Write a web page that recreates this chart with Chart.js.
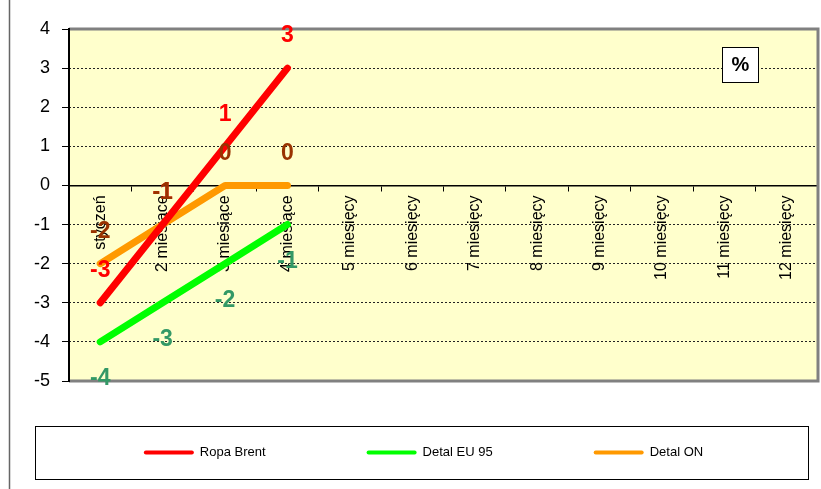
<!DOCTYPE html>
<html>
<head>
<meta charset="utf-8">
<script src="https://cdn.jsdelivr.net/npm/chart.js@4"></script>
<style>
  html, body { margin: 0; padding: 0; background: #fff; }
  #wrap { width: 821px; height: 489px; position: relative; }
</style>
</head>
<body>
<div id="wrap"><canvas id="chart" width="821" height="489"></canvas></div>
<script>
// chart data
const months = ["styczeń", "2 miesiące", "3 miesiące", "4 miesiące", "5 miesięcy", "6 miesięcy",
    "7 miesięcy", "8 miesięcy", "9 miesięcy", "10 miesięcy", "11 miesięcy", "12 miesięcy"];
const ropaBrent = [-3, -1, 1, 3];
const detalEU95 = [-4, -3, -2, -1];
const detalON = [-2, -1, 0, 0];
const yTicks = [4, 3, 2, 1, 0, -1, -2, -3, -4, -5];

const FONT = "'Liberation Sans', Arial, sans-serif";

// label colour + offset (px) for the value labels of each series
const labelStyle = [
    { color: "#FF0000", dy: -32 },
    { color: "#339966", dy: 37 },
    { color: "#993300", dy: -32 }
];

// plot background, frame and extras
const framePlugin = {
    id: "frame",
    beforeDraw(chart) {
        const { ctx, chartArea: a } = chart;
        ctx.save();
        ctx.fillStyle = "#fff";
        ctx.fillRect(0, 0, chart.width, chart.height);
        ctx.fillStyle = "#FFFFCC";
        ctx.fillRect(a.left, a.top, a.right - a.left, a.bottom - a.top);
        // outer chart frame (left edge only visible)
        ctx.strokeStyle = "#666";
        ctx.lineWidth = 1.5;
        ctx.beginPath();
        ctx.moveTo(9.5, 0);
        ctx.lineTo(9.5, chart.height);
        ctx.stroke();
        ctx.restore();
    },
    beforeDatasetsDraw(chart) {
        const { ctx, chartArea: a } = chart;
        ctx.save();
        ctx.strokeStyle = "#808080";
        ctx.lineWidth = 3;
        ctx.beginPath();
        ctx.moveTo(a.left, a.top);
        ctx.lineTo(a.right, a.top);
        ctx.lineTo(a.right, a.bottom);
        ctx.lineTo(a.left, a.bottom);
        ctx.stroke();
        ctx.strokeStyle = "#000";
        ctx.lineWidth = 2;
        ctx.beginPath();
        ctx.moveTo(a.left, a.top - 1);
        ctx.lineTo(a.left, a.bottom + 1);
        ctx.stroke();
        ctx.restore();
    },
    afterDatasetsDraw(chart) {
        const ctx = chart.ctx;
        ctx.save();
        ctx.font = "bold 23px " + FONT;
        ctx.textAlign = "center";
        ctx.textBaseline = "middle";
        chart.data.datasets.forEach((ds, i) => {
            const meta = chart.getDatasetMeta(i);
            ctx.fillStyle = labelStyle[i].color;
            meta.data.forEach((pt, j) => {
                if (ds.data[j] == null) return;
                ctx.fillText(String(ds.data[j]), pt.x, pt.y + labelStyle[i].dy);
            });
        });
        ctx.restore();
    },
    afterDraw(chart) {
        const ctx = chart.ctx;
        ctx.save();
        // "%" box
        ctx.fillStyle = "#fff";
        ctx.fillRect(722, 47, 37, 35);
        ctx.strokeStyle = "#000";
        ctx.lineWidth = 1;
        ctx.strokeRect(722.5, 47.5, 36, 35);
        ctx.fillStyle = "#000";
        ctx.font = "bold 20px " + FONT;
        ctx.textAlign = "center";
        ctx.textBaseline = "middle";
        ctx.fillText("%", 740.5, 65);

        // legend
        const box = { left: 35, top: 426, right: 808, bottom: 479 };
        ctx.fillStyle = "#fff";
        ctx.fillRect(box.left, box.top, box.right - box.left, box.bottom - box.top);
        ctx.strokeStyle = "#000";
        ctx.strokeRect(box.left + 0.5, box.top + 0.5, box.right - box.left, box.bottom - box.top);
        ctx.font = "13px " + FONT;
        ctx.textAlign = "left";
        const lineLen = 50, gapText = 6, gapItem = 101;
        const items = chart.data.datasets.map(ds => ({
            label: ds.label, color: ds.borderColor,
            w: lineLen + gapText + ctx.measureText(ds.label).width
        }));
        const total = items.reduce((s, it) => s + it.w, 0) + gapItem * (items.length - 1);
        let x = (box.left + box.right) / 2 - total / 2 + 2;
        const y = (box.top + box.bottom) / 2;
        items.forEach(it => {
            ctx.strokeStyle = it.color;
            ctx.lineWidth = 4;
            ctx.lineCap = "round";
            ctx.beginPath();
            ctx.moveTo(x + 2, y);
            ctx.lineTo(x + lineLen - 2, y);
            ctx.stroke();
            ctx.fillStyle = "#000";
            ctx.fillText(it.label, x + lineLen + gapText, y);
            x += it.w + gapItem;
        });
        ctx.restore();
    }
};

new Chart(document.getElementById("chart"), {
    type: "line",
    data: {
        labels: months,
        datasets: [
            { label: "Ropa Brent", data: ropaBrent, borderColor: "#FF0000" },
            { label: "Detal EU 95", data: detalEU95, borderColor: "#00FF00" },
            { label: "Detal ON", data: detalON, borderColor: "#FF9900" }
        ]
    },
    options: {
        responsive: false,
        animation: false,
        devicePixelRatio: 1,
        layout: { padding: { left: 0, top: 29, right: 3, bottom: 108 } },
        elements: {
            line: { borderWidth: 7, tension: 0, borderCapStyle: "round", borderJoinStyle: "round", fill: false },
            point: { radius: 0, hoverRadius: 0 }
        },
        plugins: {
            legend: { display: false },
            tooltip: { enabled: false },
            title: { display: false }
        },
        scales: {
            y: {
                min: -5,
                max: 4,
                afterFit: scale => { scale.width = 69; },
                afterBuildTicks: scale => { scale.ticks = yTicks.map(v => ({ value: v })); },
                ticks: {
                    color: "#000",
                    padding: 12,
                    font: { family: FONT, size: 18 }
                },
                grid: {
                    color: "#222",
                    lineWidth: 1,
                    tickBorderDash: [],
                    tickColor: "#000",
                    tickLength: 7
                },
                border: { display: false, dash: [2, 2] }
            },
            x: {
                position: { y: 0 },
                offset: true,
                ticks: {
                    color: "#000",
                    autoSkip: false,
                    minRotation: 90,
                    maxRotation: 90,
                    padding: 5,
                    font: { family: FONT, size: 16 }
                },
                grid: {
                    offset: true,
                    drawOnChartArea: false,
                    drawTicks: true,
                    tickLength: 5,
                    tickColor: "#000"
                },
                border: { display: true, color: "#000", width: 1.5 }
            }
        }
    },
    plugins: [framePlugin]
});
</script>
</body>
</html>
